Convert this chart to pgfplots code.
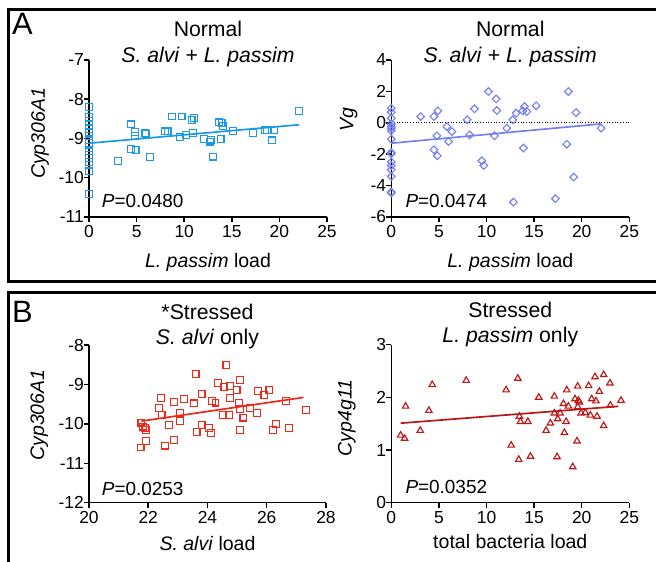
\documentclass[border=0pt]{standalone}
\usepackage{pgfplots}
\pgfplotsset{compat=1.18}
\usepackage{pgfplotstable}
\usepackage{fontspec}
\setmainfont{Liberation Sans}
\newcommand\tickfont{\fontsize{17.5}{20}\selectfont}
\newcommand\titlefont{\fontsize{21.3}{24}\selectfont}
\newcommand\labelfont{\fontsize{19.6}{22}\selectfont}
\newcommand\pfont{\fontsize{19}{22}\selectfont}
\newcommand\letterfont{\fontsize{31}{34}\selectfont}
\definecolor{blueA}{RGB}{28,152,232}
\definecolor{lavA}{RGB}{118,128,240}
\definecolor{redB}{RGB}{240,40,25}
\definecolor{dredB}{RGB}{188,22,22}

\pgfplotstableread{
x y
0 -8.19
0 -8.46
0 -8.55
0 -8.66
0 -8.76
0 -8.85
0 -8.93
0 -9.05
0 -9.12
0 -9.33
0 -9.42
0 -9.50
0 -9.60
0 -9.84
0 -10.41
3.05 -9.58
4.39 -8.64
4.39 -9.26
4.80 -8.84
4.80 -8.93
4.90 -9.29
5.86 -8.86
5.96 -8.89
6.39 -9.47
7.96 -8.82
8.25 -8.82
8.74 -8.44
9.54 -8.97
9.72 -8.44
10.18 -8.91
10.77 -8.53
11.05 -8.47
10.95 -8.86
12.07 -9.01
12.70 -9.08
12.80 -9.03
13.05 -9.46
13.65 -8.59
13.93 -8.61
14.10 -8.68
13.82 -9.02
15.16 -8.81
17.26 -8.86
18.49 -8.78
18.67 -8.78
19.47 -8.78
19.19 -9.05
22.07 -8.30
}\dataAa

\pgfplotstableread{
x y
0 0.93
0 0.67
0 0.29
0 -0.07
0 -0.24
0 -0.34
0 -0.51
0 -1.04
0 -1.89
0 -1.97
0 -2.50
0 -2.72
0 -2.99
0 -3.42
0 -4.41
0 -4.47
3.08 0.40
4.48 0.40
4.90 0.76
4.79 -0.83
4.48 -1.72
4.83 -2.10
5.84 -0.24
6.01 -1.19
6.36 -0.56
7.97 0.19
8.22 -0.77
8.74 0.89
9.51 -2.42
9.72 -2.72
10.21 1.99
11.01 1.52
11.08 0.78
10.84 -0.83
12.13 -0.34
12.76 0.19
13.11 0.61
12.83 -5.05
13.81 0.76
13.99 1.03
14.23 0.72
13.88 -1.61
15.21 1.08
17.24 -4.83
18.43 -1.36
18.60 1.99
19.41 0.65
19.16 -3.46
22.03 -0.34
}\dataAb

\pgfplotstableread{
x y
21.77 -9.97
21.83 -10.07
21.88 -10.11
21.92 -10.16
21.92 -10.44
21.74 -10.60
22.37 -9.59
22.43 -9.34
22.45 -9.78
22.56 -10.55
22.69 -10.03
22.86 -9.45
22.87 -10.41
23.07 -9.73
23.07 -9.93
23.20 -9.37
23.55 -9.48
23.60 -8.74
23.63 -10.20
23.80 -9.24
23.80 -10.03
24.05 -10.10
24.12 -10.24
24.16 -9.42
24.27 -9.46
24.36 -8.97
24.51 -9.78
24.57 -9.07
24.64 -8.51
24.76 -9.04
24.76 -9.35
24.73 -9.78
24.98 -9.14
25.10 -8.89
25.07 -9.46
25.10 -9.63
25.10 -10.16
25.21 -9.84
25.43 -9.61
25.68 -9.73
25.71 -9.17
25.92 -9.27
26.09 -9.14
26.22 -10.16
26.31 -10.01
26.64 -9.42
26.75 -10.10
27.32 -9.65
}\dataBa

\pgfplotstableread{
x y
0.98 1.28
1.40 1.22
1.50 1.83
3.04 1.37
3.95 1.75
4.30 2.24
7.87 2.32
12.06 2.14
12.59 1.09
13.29 2.36
13.46 1.64
13.57 1.54
13.39 0.82
14.34 1.54
14.62 0.88
15.49 2.00
16.26 1.37
16.71 1.51
17.13 2.02
17.13 1.70
17.41 0.87
17.48 1.59
17.73 1.70
18.08 1.88
18.18 1.33
18.36 1.54
18.43 2.14
18.60 1.83
19.06 0.68
19.30 1.97
19.51 1.17
19.58 2.21
19.65 1.94
19.76 1.91
19.58 1.82
19.93 1.70
20.38 1.71
20.73 2.22
20.91 1.66
21.05 1.97
21.40 2.39
21.50 1.93
21.61 1.64
21.85 2.11
22.31 2.43
22.31 1.46
22.97 2.27
23.01 1.85
24.13 1.94
}\dataBb

\pgfplotsset{
  panel/.style={
    scale only axis, width=238bp, height=157bp,
    anchor=south west,
    axis x line*=bottom, axis y line*=left,
    axis line style={line width=1.5bp, black, -},
    every tick/.style={line width=1.5bp, black},
    tick align=outside, major tick length=5bp,
    clip=false,
    tick label style={font=\tickfont, /pgf/number format/assume math mode=true},
    yticklabel style={inner xsep=0pt},
  },
}

\begin{document}
\begin{tikzpicture}
\useasboundingbox (0bp,0bp) rectangle (656bp,562bp);
\begin{scope}
\clip (0bp,0bp) rectangle (656bp,562bp);
\draw[line width=3bp] (8.7bp,280.7bp) rectangle (720bp,552.5bp);
\draw[line width=3bp] (8.7bp,-60bp) rectangle (720bp,269bp);
\end{scope}
\node[anchor=base west, inner sep=0pt, font=\letterfont] at (12bp,527bp) {A};
\node[anchor=base west, inner sep=0pt, font=\letterfont] at (12bp,239bp) {B};

% A left
\begin{axis}[panel, at={(89bp,345bp)},
  xmin=0, xmax=25, ymin=-11, ymax=-7,
  xtick={0,5,10,15,20,25},
  ytick={-11,-10,-9,-8,-7}, yticklabels={-11,-10,-9,-8,-7}]
\addplot[only marks, mark=square, mark size=3.4bp, color=blueA, mark options={line width=1.15bp}] table {\dataAa};
\addplot[no marks, color=blueA, line width=1.7bp] coordinates {(0,-9.12) (22.07,-8.65)};
\path (rel axis cs:0.5,1) ++(0bp,23.3bp) node[anchor=base, font=\titlefont] {Normal};
\path (rel axis cs:0.5,1) ++(0bp,-3bp) node[anchor=base, font=\titlefont] {\textit{S. alvi} + \textit{L. passim}};
\path (rel axis cs:0.5,0) ++(0bp,-51bp) node[anchor=base, font=\labelfont] {\textit{L. passim} load};
\path (rel axis cs:0,0.533) ++(-44bp,0bp) node[anchor=base, rotate=90, font=\labelfont] {\textit{Cyp306A1}};
\path (rel axis cs:0,0) ++(12.7bp,9bp) node[anchor=base west, inner sep=0pt, font=\pfont] {\textit{P}=0.0480};
\end{axis}

% A right
\begin{axis}[panel, at={(391.3bp,345bp)},
  xmin=0, xmax=25, ymin=-6, ymax=4,
  xtick={0,5,10,15,20,25},
  ytick={-6,-4,-2,0,2,4}, yticklabels={-6,-4,-2,0,2,4}]
\addplot[no marks, black, dotted, line width=0.7bp] coordinates {(0,0) (25,0)};
\addplot[only marks, mark=square, mark size=2.7bp, color=lavA, mark options={rotate=45, line width=1.15bp}] table {\dataAb};
\addplot[no marks, color=lavA, line width=1.7bp] coordinates {(0,-1.30) (22.03,-0.07)};
\path (rel axis cs:0.5,1) ++(0bp,23.3bp) node[anchor=base, font=\titlefont] {Normal};
\path (rel axis cs:0.5,1) ++(0bp,-3bp) node[anchor=base, font=\titlefont] {\textit{S. alvi} + \textit{L. passim}};
\path (rel axis cs:0.5,0) ++(0bp,-51bp) node[anchor=base, font=\labelfont] {\textit{L. passim} load};
\path (rel axis cs:0,0.618) ++(-38bp,0bp) node[anchor=base, rotate=90, font=\labelfont] {\textit{Vg}};
\path (rel axis cs:0,0) ++(14bp,9bp) node[anchor=base west, inner sep=0pt, font=\pfont] {\textit{P}=0.0474};
\end{axis}

% B left
\begin{axis}[panel, at={(89bp,59.3bp)}, height=157.7bp, width=237bp,
  xmin=20, xmax=28, ymin=-12, ymax=-8,
  xtick={20,22,24,26,28},
  ytick={-12,-11,-10,-9,-8}, yticklabels={-12,-11,-10,-9,-8}]
\addplot[only marks, mark=square, mark size=3.4bp, color=redB, mark options={line width=1.15bp}] table {\dataBa};
\addplot[no marks, color=redB, line width=1.7bp] coordinates {(21.77,-9.93) (27.24,-9.33)};
\path (rel axis cs:0.5,1) ++(0bp,25.7bp) node[anchor=base, font=\titlefont] {*Stressed};
\path (rel axis cs:0.5,1) ++(0bp,1bp) node[anchor=base, font=\titlefont] {\textit{S. alvi} only};
\path (rel axis cs:0.5,0) ++(0bp,-48bp) node[anchor=base, font=\labelfont] {\textit{S. alvi} load};
\path (rel axis cs:0,0.556) ++(-45bp,0bp) node[anchor=base, rotate=90, font=\labelfont] {\textit{Cyp306A1}};
\path (rel axis cs:0,0) ++(12.7bp,7.7bp) node[anchor=base west, inner sep=0pt, font=\pfont] {\textit{P}=0.0253};
\end{axis}

% B right
\begin{axis}[panel, at={(391.3bp,59.3bp)}, height=158bp,
  xmin=0, xmax=25, ymin=0, ymax=3,
  xtick={0,5,10,15,20,25},
  ytick={0,1,2,3}, yticklabels={0,1,2,3}]
\addplot[only marks, mark=triangle, mark size=3.7bp, color=dredB, mark options={line width=1.15bp}] table {\dataBb};
\addplot[no marks, color=dredB, line width=1.7bp] coordinates {(0.98,1.51) (23.85,1.83)};
\path (rel axis cs:0.5,1) ++(0bp,27bp) node[anchor=base, font=\titlefont] {Stressed};
\path (rel axis cs:0.5,1) ++(0bp,2.3bp) node[anchor=base, font=\titlefont] {\textit{L. passim} only};
\path (rel axis cs:0.5,0) ++(0bp,-45.6bp) node[anchor=base, font=\labelfont] {total bacteria load};
\path (rel axis cs:0,0.537) ++(-39.6bp,0bp) node[anchor=base, rotate=90, font=\labelfont] {\textit{Cyp4g11}};
\path (rel axis cs:0,0) ++(14bp,9.4bp) node[anchor=base west, inner sep=0pt, font=\pfont] {\textit{P}=0.0352};
\end{axis}
\end{tikzpicture}
\end{document}
